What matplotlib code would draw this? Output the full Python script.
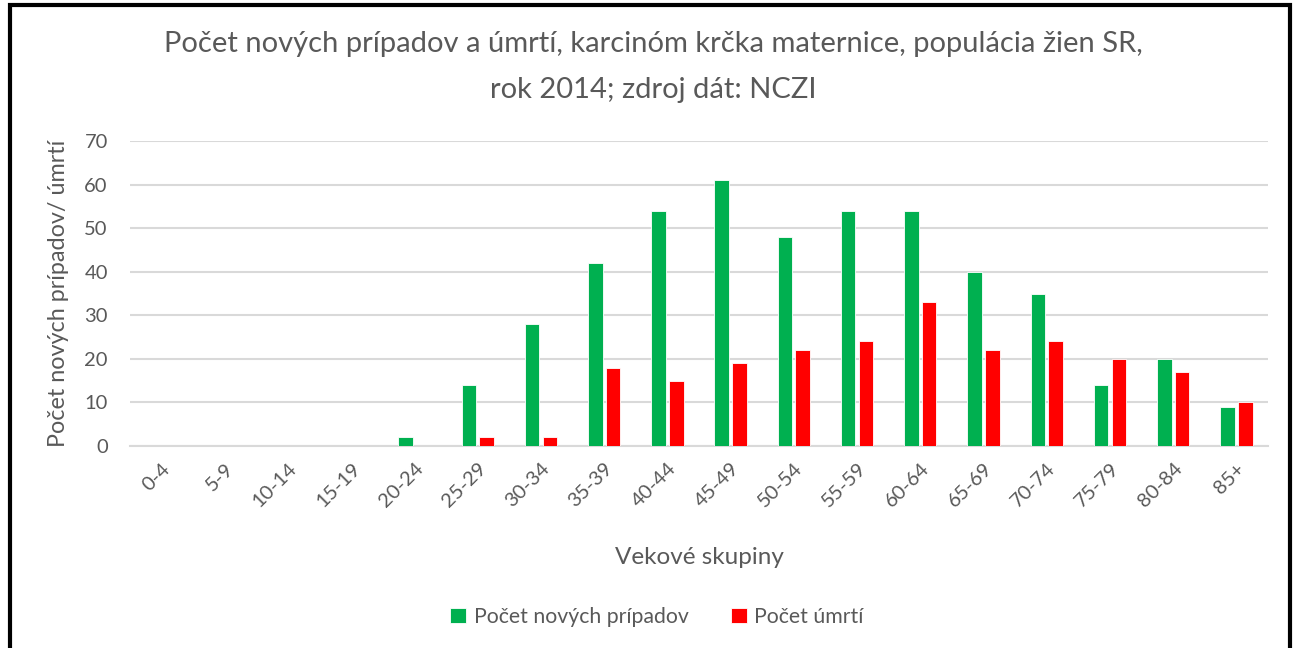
import matplotlib
matplotlib.use("Agg")
import matplotlib.pyplot as plt
from matplotlib.patches import Rectangle
import numpy as np

# Dáta
vekove_skupiny = ['0-4', '5-9', '10-14', '15-19', '20-24', '25-29', '30-34', '35-39',
                  '40-44', '45-49', '50-54', '55-59', '60-64', '65-69', '70-74',
                  '75-79', '80-84', '85+']
nove_pripady = [0, 0, 0, 0, 2, 14, 28, 42, 54, 61, 48, 54, 54, 40, 35, 14, 20, 9]
umrtia = [0, 0, 0, 0, 0, 2, 2, 18, 15, 19, 22, 24, 33, 22, 24, 20, 17, 10]

plt.rcParams['font.family'] = ['Lato', 'DejaVu Sans']
sediva = '#595959'

fig = plt.figure(figsize=(12.98, 6.48), dpi=100)
ax = fig.add_axes([130 / 1298, 1 - 446 / 648, 1138 / 1298, 305 / 648])

x = np.arange(len(vekove_skupiny))
sirka = 0.23
ax.bar(x - 0.14, nove_pripady, sirka, color='#00B050', edgecolor='white',
       linewidth=0.6, label='Počet nových prípadov', zorder=3)
ax.bar(x + 0.14, umrtia, sirka, color='#FF0000', edgecolor='white',
       linewidth=0.6, label='Počet úmrtí', zorder=3)

ax.set_xlim(-0.5, len(vekove_skupiny) - 0.5)
ax.set_ylim(0, 70)
ax.set_yticks(range(0, 71, 10))
ax.grid(axis='y', color='#D9D9D9', linewidth=1.5, zorder=0)
for s in ['top', 'right', 'left']:
    ax.spines[s].set_visible(False)
ax.spines['bottom'].set_color('#D9D9D9')
ax.spines['bottom'].set_linewidth(1.5)
ax.tick_params(axis='both', length=0, colors=sediva, labelsize=14.5)
ax.tick_params(axis='y', pad=16)
ax.set_xticks(x)
ax.set_xticklabels(vekove_skupiny, rotation=45, ha='right', rotation_mode='anchor')
ax.tick_params(axis='x', pad=10)

ax.set_ylabel('Počet nových prípadov/ úmrtí', color=sediva, fontsize=16.8, labelpad=11)
fig.text(699 / 1298, 1 - 558 / 648, 'Vekové skupiny', color=sediva,
         fontsize=17.5, ha='center', va='center')

# nadpis v dvoch riadkoch
fig.text(653 / 1298, 1 - 44 / 648,
         'Počet nových prípadov a úmrtí, karcinóm krčka maternice, populácia žien SR,',
         color=sediva, fontsize=21, ha='center', va='center')
fig.text(653 / 1298, 1 - 90 / 648, 'rok 2014; zdroj dát: NCZI',
         color=sediva, fontsize=21, ha='center', va='center')

fig.legend(loc='center', bbox_to_anchor=(657 / 1298, 1 - 617 / 648),
           ncol=2, frameon=False, fontsize=15.3, labelcolor=sediva,
           handlelength=0.75, handleheight=0.75, columnspacing=2.0, handletextpad=0.35)

# rámik okolo grafu
fig.patches.append(Rectangle((10 / 1298, -0.05), 1280 / 1298, 1.05 - 5 / 648,
                             transform=fig.transFigure, fill=False,
                             edgecolor='black', linewidth=3))

fig.savefig('out.png', dpi=100)
